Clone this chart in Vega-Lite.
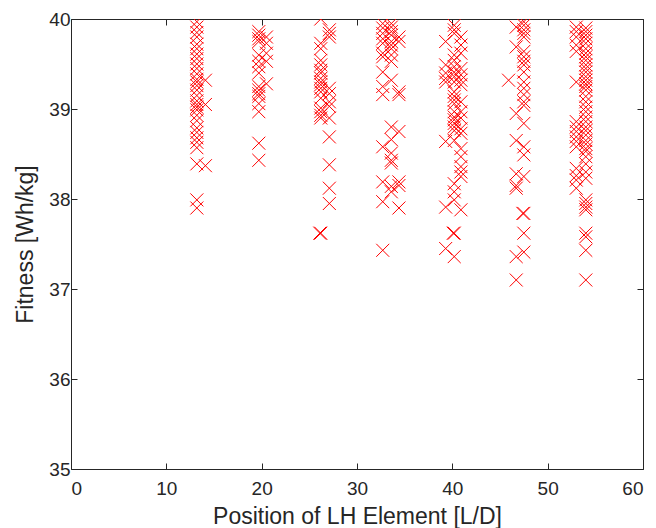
{
  "$schema": "https://vega.github.io/schema/vega-lite/v6.json",
  "autosize": {"type": "none"},
  "padding": {"left": 71, "top": 19, "right": 13, "bottom": 59},
  "width": 572,
  "height": 450,
  "background": "white",
  "config": {
    "view": {"stroke": "#262626", "strokeWidth": 1},
    "axis": {
      "grid": false,
      "domain": false,
      "tickColor": "#262626",
      "tickSize": -6,
      "labelColor": "#262626",
      "labelFont": "Liberation Sans",
      "labelFontSize": 19,
      "titleFont": "Liberation Sans",
      "titleFontSize": 23,
      "titleFontWeight": "normal",
      "titleColor": "#262626"
    }
  },
  "data": {
    "values": [
      {"x": 13.2, "y": 39.97}, {"x": 13.2, "y": 39.91}, {"x": 13.2, "y": 39.85}, {"x": 13.2, "y": 39.80}, {"x": 13.2, "y": 39.72},
      {"x": 13.2, "y": 39.67}, {"x": 13.2, "y": 39.61}, {"x": 13.2, "y": 39.56}, {"x": 13.2, "y": 39.50}, {"x": 13.2, "y": 39.45},
      {"x": 13.2, "y": 39.39}, {"x": 13.2, "y": 39.33}, {"x": 13.2, "y": 39.30}, {"x": 13.2, "y": 39.26}, {"x": 13.2, "y": 39.21},
      {"x": 13.2, "y": 39.15}, {"x": 13.2, "y": 39.09}, {"x": 13.2, "y": 39.05}, {"x": 13.2, "y": 39.02}, {"x": 13.2, "y": 38.99},
      {"x": 13.2, "y": 38.93}, {"x": 13.2, "y": 38.87}, {"x": 13.2, "y": 38.79}, {"x": 13.2, "y": 38.74}, {"x": 13.2, "y": 38.68},
      {"x": 13.2, "y": 38.63}, {"x": 13.2, "y": 38.57}, {"x": 13.2, "y": 38.39}, {"x": 13.2, "y": 37.99}, {"x": 13.2, "y": 37.90},
      {"x": 14.1, "y": 39.32}, {"x": 14.1, "y": 39.05}, {"x": 14.1, "y": 38.37},

      {"x": 19.7, "y": 39.86}, {"x": 19.7, "y": 39.82}, {"x": 19.7, "y": 39.78}, {"x": 19.7, "y": 39.75}, {"x": 19.7, "y": 39.60},
      {"x": 19.7, "y": 39.53}, {"x": 19.7, "y": 39.47}, {"x": 19.7, "y": 39.40}, {"x": 19.7, "y": 39.25}, {"x": 19.7, "y": 39.21},
      {"x": 19.7, "y": 39.17}, {"x": 19.7, "y": 39.14}, {"x": 19.7, "y": 39.06}, {"x": 19.7, "y": 38.97}, {"x": 19.7, "y": 38.62},
      {"x": 19.7, "y": 38.43},
      {"x": 20.5, "y": 39.80}, {"x": 20.5, "y": 39.73}, {"x": 20.5, "y": 39.62}, {"x": 20.5, "y": 39.53}, {"x": 20.5, "y": 39.28},

      {"x": 26.2, "y": 40.0}, {"x": 26.2, "y": 39.73}, {"x": 26.2, "y": 39.67}, {"x": 26.2, "y": 39.54}, {"x": 26.2, "y": 39.49},
      {"x": 26.2, "y": 39.43}, {"x": 26.2, "y": 39.40}, {"x": 26.2, "y": 39.34}, {"x": 26.2, "y": 39.30}, {"x": 26.2, "y": 39.27},
      {"x": 26.2, "y": 39.23}, {"x": 26.2, "y": 39.19}, {"x": 26.2, "y": 39.12}, {"x": 26.2, "y": 39.01}, {"x": 26.2, "y": 38.97},
      {"x": 26.2, "y": 38.93}, {"x": 26.2, "y": 38.90}, {"x": 26.2, "y": 37.62}, {"x": 26.1, "y": 37.62},
      {"x": 27.1, "y": 39.88}, {"x": 27.1, "y": 39.84}, {"x": 27.1, "y": 39.80}, {"x": 27.1, "y": 39.23}, {"x": 27.1, "y": 39.17},
      {"x": 27.1, "y": 39.08}, {"x": 27.1, "y": 39.03}, {"x": 27.1, "y": 38.90}, {"x": 27.1, "y": 38.69}, {"x": 27.1, "y": 38.38},
      {"x": 27.1, "y": 38.12}, {"x": 27.1, "y": 37.95},

      {"x": 32.7, "y": 39.95}, {"x": 32.7, "y": 39.90}, {"x": 32.7, "y": 39.84}, {"x": 32.7, "y": 39.78}, {"x": 32.7, "y": 39.73},
      {"x": 32.7, "y": 39.62}, {"x": 32.7, "y": 39.58}, {"x": 32.7, "y": 39.41}, {"x": 32.7, "y": 39.25}, {"x": 32.7, "y": 39.16},
      {"x": 32.7, "y": 38.58}, {"x": 32.7, "y": 38.19}, {"x": 32.7, "y": 37.97}, {"x": 32.7, "y": 37.43},
      {"x": 33.6, "y": 39.95}, {"x": 33.6, "y": 39.91}, {"x": 33.6, "y": 39.86}, {"x": 33.6, "y": 39.82}, {"x": 33.6, "y": 39.75},
      {"x": 33.6, "y": 39.71}, {"x": 33.6, "y": 39.67}, {"x": 33.6, "y": 39.60}, {"x": 33.6, "y": 39.53}, {"x": 33.6, "y": 39.32},
      {"x": 33.6, "y": 38.80}, {"x": 33.6, "y": 38.66}, {"x": 33.6, "y": 38.51}, {"x": 33.6, "y": 38.43}, {"x": 33.6, "y": 38.40},
      {"x": 33.6, "y": 38.14}, {"x": 33.6, "y": 38.08},
      {"x": 34.4, "y": 39.80}, {"x": 34.4, "y": 39.75}, {"x": 34.4, "y": 39.19}, {"x": 34.4, "y": 39.16}, {"x": 34.4, "y": 38.75},
      {"x": 34.4, "y": 38.19}, {"x": 34.4, "y": 38.15}, {"x": 34.4, "y": 37.90},

      {"x": 39.3, "y": 39.75}, {"x": 39.3, "y": 39.49}, {"x": 39.3, "y": 39.40}, {"x": 39.3, "y": 39.34}, {"x": 39.3, "y": 39.30},
      {"x": 39.3, "y": 38.64}, {"x": 39.3, "y": 37.91}, {"x": 39.3, "y": 37.45},
      {"x": 40.2, "y": 39.93}, {"x": 40.2, "y": 39.88}, {"x": 40.2, "y": 39.84}, {"x": 40.2, "y": 39.60}, {"x": 40.2, "y": 39.54},
      {"x": 40.2, "y": 39.47}, {"x": 40.2, "y": 39.41}, {"x": 40.2, "y": 39.36}, {"x": 40.2, "y": 39.30}, {"x": 40.2, "y": 39.19},
      {"x": 40.2, "y": 39.14}, {"x": 40.2, "y": 39.10}, {"x": 40.2, "y": 39.06}, {"x": 40.2, "y": 38.97}, {"x": 40.2, "y": 38.91},
      {"x": 40.2, "y": 38.88}, {"x": 40.2, "y": 38.84}, {"x": 40.2, "y": 38.80}, {"x": 40.2, "y": 38.76}, {"x": 40.2, "y": 38.65},
      {"x": 40.2, "y": 38.17}, {"x": 40.2, "y": 38.08}, {"x": 40.2, "y": 37.99}, {"x": 40.2, "y": 37.62}, {"x": 40.1, "y": 37.62},
      {"x": 40.2, "y": 37.36},
      {"x": 40.9, "y": 39.80}, {"x": 40.9, "y": 39.71}, {"x": 40.9, "y": 39.62}, {"x": 40.9, "y": 39.45}, {"x": 40.9, "y": 39.38},
      {"x": 40.9, "y": 39.32}, {"x": 40.9, "y": 39.27}, {"x": 40.9, "y": 39.08}, {"x": 40.9, "y": 38.97}, {"x": 40.9, "y": 38.90},
      {"x": 40.9, "y": 38.78}, {"x": 40.9, "y": 38.73}, {"x": 40.9, "y": 38.56}, {"x": 40.9, "y": 38.47}, {"x": 40.9, "y": 38.36},
      {"x": 40.9, "y": 38.30}, {"x": 40.9, "y": 38.25}, {"x": 40.9, "y": 37.88},

      {"x": 45.9, "y": 39.32},
      {"x": 46.7, "y": 39.91}, {"x": 46.7, "y": 39.69}, {"x": 46.7, "y": 38.95}, {"x": 46.7, "y": 38.65}, {"x": 46.7, "y": 38.28},
      {"x": 46.7, "y": 38.15}, {"x": 46.7, "y": 38.12}, {"x": 46.7, "y": 37.36}, {"x": 46.7, "y": 37.10},
      {"x": 47.5, "y": 39.97}, {"x": 47.5, "y": 39.93}, {"x": 47.5, "y": 39.88}, {"x": 47.5, "y": 39.84}, {"x": 47.5, "y": 39.80},
      {"x": 47.5, "y": 39.64}, {"x": 47.5, "y": 39.58}, {"x": 47.5, "y": 39.53}, {"x": 47.5, "y": 39.49}, {"x": 47.5, "y": 39.41},
      {"x": 47.5, "y": 39.30}, {"x": 47.5, "y": 39.23}, {"x": 47.5, "y": 39.16}, {"x": 47.5, "y": 39.08}, {"x": 47.5, "y": 39.04},
      {"x": 47.5, "y": 38.84}, {"x": 47.5, "y": 38.58}, {"x": 47.5, "y": 38.49}, {"x": 47.5, "y": 38.25}, {"x": 47.5, "y": 37.84},
      {"x": 47.4, "y": 37.84}, {"x": 47.5, "y": 37.62}, {"x": 47.5, "y": 37.41},

      {"x": 53.0, "y": 39.91}, {"x": 53.0, "y": 39.86}, {"x": 53.0, "y": 39.80}, {"x": 53.0, "y": 39.71}, {"x": 53.0, "y": 39.64},
      {"x": 53.0, "y": 39.30}, {"x": 53.0, "y": 38.86}, {"x": 53.0, "y": 38.80}, {"x": 53.0, "y": 38.75}, {"x": 53.0, "y": 38.69},
      {"x": 53.0, "y": 38.64}, {"x": 53.0, "y": 38.58}, {"x": 53.0, "y": 38.34}, {"x": 53.0, "y": 38.26}, {"x": 53.0, "y": 38.21},
      {"x": 53.0, "y": 38.12},
      {"x": 54.0, "y": 39.90}, {"x": 54.0, "y": 39.86}, {"x": 54.0, "y": 39.82}, {"x": 54.0, "y": 39.78}, {"x": 54.0, "y": 39.73},
      {"x": 54.0, "y": 39.67}, {"x": 54.0, "y": 39.62}, {"x": 54.0, "y": 39.58}, {"x": 54.0, "y": 39.54}, {"x": 54.0, "y": 39.49},
      {"x": 54.0, "y": 39.45}, {"x": 54.0, "y": 39.41}, {"x": 54.0, "y": 39.36}, {"x": 54.0, "y": 39.32}, {"x": 54.0, "y": 39.28},
      {"x": 54.0, "y": 39.25}, {"x": 54.0, "y": 39.21}, {"x": 54.0, "y": 39.14}, {"x": 54.0, "y": 39.08}, {"x": 54.0, "y": 39.02},
      {"x": 54.0, "y": 38.97}, {"x": 54.0, "y": 38.91}, {"x": 54.0, "y": 38.86}, {"x": 54.0, "y": 38.80}, {"x": 54.0, "y": 38.76},
      {"x": 54.0, "y": 38.71}, {"x": 54.0, "y": 38.65}, {"x": 54.0, "y": 38.61}, {"x": 54.0, "y": 38.56}, {"x": 54.0, "y": 38.53},
      {"x": 54.0, "y": 38.47}, {"x": 54.0, "y": 38.39}, {"x": 54.0, "y": 38.30}, {"x": 54.0, "y": 38.23}, {"x": 54.0, "y": 37.99},
      {"x": 54.0, "y": 37.95}, {"x": 54.0, "y": 37.91}, {"x": 54.0, "y": 37.88}, {"x": 54.0, "y": 37.62}, {"x": 54.0, "y": 37.58},
      {"x": 54.0, "y": 37.43}, {"x": 54.0, "y": 37.10}
    ]
  },
  "layer": [
    {
      "mark": {
        "type": "point",
        "shape": "M-1,-1L1,1M1,-1L-1,1",
        "filled": false,
        "stroke": "#ff0000",
        "strokeWidth": 1,
        "opacity": 1,
        "size": 169,
        "clip": true
      },
      "encoding": {
        "x": {
          "field": "x", "type": "quantitative",
          "scale": {"domain": [0, 60], "nice": false, "zero": false},
          "axis": {"orient": "bottom", "values": [0, 10, 20, 30, 40, 50, 60], "title": "Position of LH Element [L/D]", "labelPadding": 16, "titlePadding": 7}
        },
        "y": {
          "field": "y", "type": "quantitative",
          "scale": {"domain": [35, 40], "nice": false, "zero": false},
          "axis": {"orient": "left", "values": [35, 36, 37, 38, 39, 40], "title": "Fitness [Wh/kg]", "labelPadding": 7, "titlePadding": 11}
        }
      }
    },
    {
      "transform": [{"filter": "datum.x < 0"}],
      "mark": {"type": "point", "opacity": 0, "strokeOpacity": 0, "fillOpacity": 0},
      "encoding": {
        "x": {
          "field": "x", "type": "quantitative",
          "axis": {"orient": "top", "values": [0, 10, 20, 30, 40, 50, 60], "labels": false, "title": null}
        },
        "y": {
          "field": "y", "type": "quantitative",
          "axis": {"orient": "right", "values": [35, 36, 37, 38, 39, 40], "labels": false, "title": null}
        }
      }
    }
  ],
  "resolve": {"axis": {"x": "independent", "y": "independent"}}
}
